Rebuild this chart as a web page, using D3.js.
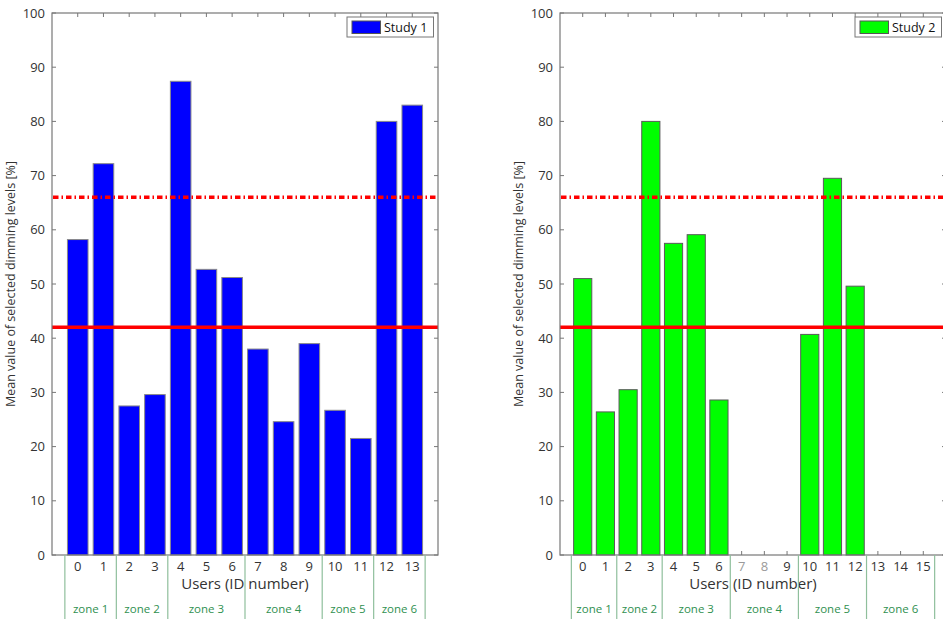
<!DOCTYPE html>
<html>
<head>
<meta charset="utf-8">
<script src="https://cdn.jsdelivr.net/npm/d3@7"></script>
<style>
  body { margin: 0; background: #fff; }
  svg { font-family: "Open Sans", sans-serif; }
</style>
</head>
<body>
<script>
// data
var study1Ids = [0, 1, 2, 3, 4, 5, 6, 7, 8, 9, 10, 11, 12, 13];
var study1Values = [58.2, 72.2, 27.5, 29.6, 87.4, 52.7, 51.2, 38.0, 24.6, 39.0, 26.7, 21.5, 80.0, 83.0];

var study2Ids = [0, 1, 2, 3, 4, 5, 6, 7, 8, 9, 10, 11, 12, 13, 14, 15];
var study2Values = [51.0, 26.4, 30.5, 80.0, 57.5, 59.1, 28.6, null, null, null, 40.7, 69.5, 49.6, null, null, null];
var study2GrayIds = [7, 8];

var yTicks = [0, 10, 20, 30, 40, 50, 60, 70, 80, 90, 100];
var meanLevel = 42;     // solid red line
var upperLevel = 66;    // dash-dot red line

var zoneNames = ["zone 1", "zone 2", "zone 3", "zone 4", "zone 5", "zone 6"];
var zoneStarts1 = [0, 2, 4, 7, 10, 12];
var zoneEnds1 = [1, 3, 6, 9, 11, 13];
var zoneStarts2 = [0, 2, 4, 7, 10, 13];
var zoneEnds2 = [1, 3, 6, 9, 12, 15];

var W = 943, H = 619;
var plotTop = 13, plotBottom = 555;

var svg = d3.select("body").append("svg")
    .attr("width", W)
    .attr("height", H);

function drawPanel(opts) {
    var g = svg.append("g");
    var ids = opts.ids, vals = opts.values;

    var x = d3.scaleLinear()
        .domain([ids[0] - 1, ids[ids.length - 1] + 1])
        .range([opts.left, opts.left + 386]);
    var y = d3.scaleLinear()
        .domain([0, 100])
        .range([plotBottom, plotTop]);
    var step = x(1) - x(0);
    var bw = step * 0.8;

    // top and bottom inward ticks
    g.selectAll(".tt").data(ids).enter().append("line")
        .attr("x1", d => x(d)).attr("x2", d => x(d))
        .attr("y1", plotTop).attr("y2", plotTop + 4)
        .attr("stroke", "#777").attr("stroke-width", 1);
    g.selectAll(".bt").data(ids).enter().append("line")
        .attr("x1", d => x(d)).attr("x2", d => x(d))
        .attr("y1", plotBottom).attr("y2", plotBottom - 4)
        .attr("stroke", "#777").attr("stroke-width", 1);
    // left and right inward ticks
    g.selectAll(".lt").data(yTicks).enter().append("line")
        .attr("x1", x.range()[0]).attr("x2", x.range()[0] + 4)
        .attr("y1", d => y(d)).attr("y2", d => y(d))
        .attr("stroke", "#777");
    g.selectAll(".rt").data(yTicks).enter().append("line")
        .attr("x1", x.range()[1]).attr("x2", x.range()[1] - 4)
        .attr("y1", d => y(d)).attr("y2", d => y(d))
        .attr("stroke", "#777");

    // bars
    var bars = ids.map((d, i) => ({ id: d, v: vals[i] })).filter(d => d.v != null);
    g.selectAll(".bar").data(bars).enter().append("rect")
        .attr("x", d => x(d.id) - bw / 2)
        .attr("width", bw)
        .attr("y", d => y(d.v))
        .attr("height", d => y(0) - y(d.v))
        .attr("fill", opts.color)
        .attr("stroke", opts.edge)
        .attr("stroke-width", 1);

    // reference lines
    g.append("line")
        .attr("x1", x.range()[0]).attr("x2", x.range()[1])
        .attr("y1", y(meanLevel)).attr("y2", y(meanLevel))
        .attr("stroke", "#ff0000").attr("stroke-width", 3.5);
    g.append("line")
        .attr("x1", x.range()[0] + 1).attr("x2", x.range()[1])
        .attr("y1", y(upperLevel)).attr("y2", y(upperLevel))
        .attr("stroke", "#ff0000").attr("stroke-width", 3.5)
        .attr("stroke-dasharray", "5.5,3,1.5,3");

    // axes box
    g.append("rect")
        .attr("x", x.range()[0]).attr("y", plotTop)
        .attr("width", x.range()[1] - x.range()[0])
        .attr("height", plotBottom - plotTop)
        .attr("fill", "none")
        .attr("stroke", "#777").attr("stroke-width", 1.2);

    // y tick labels
    g.selectAll(".yl").data(yTicks).enter().append("text")
        .attr("x", x.range()[0] - 7)
        .attr("y", d => y(d))
        .attr("dy", "0.35em")
        .attr("text-anchor", "end")
        .attr("font-size", 13)
        .attr("fill", "#333")
        .text(d => d);

    // x tick labels
    g.selectAll(".xl").data(ids).enter().append("text")
        .attr("x", d => x(d))
        .attr("y", 566)
        .attr("dy", "0.35em")
        .attr("text-anchor", "middle")
        .attr("font-size", 13)
        .attr("fill", d => opts.grayIds.indexOf(d) >= 0 ? "#9a9a9a" : "#333")
        .text(d => d);

    g.append("text")
        .attr("x", (x.range()[0] + x.range()[1]) / 2)
        .attr("y", 584)
        .attr("dy", "0.35em")
        .attr("text-anchor", "middle")
        .attr("font-size", 15)
        .attr("fill", "#333")
        .text("Users (ID number)");

    g.append("text")
        .attr("transform", "translate(" + (x.range()[0] - 37) + "," + ((plotTop + plotBottom) / 2) + ") rotate(-90)")
        .attr("text-anchor", "middle")
        .attr("font-size", 12.5)
        .attr("fill", "#333")
        .text("Mean value of selected dimming levels [%]");

    // zones under the axis
    var bounds = [opts.zoneStarts[0] - 0.5].concat(opts.zoneEnds.map(d => d + 0.5));
    g.selectAll(".zl").data(bounds).enter().append("line")
        .attr("x1", d => x(d)).attr("x2", d => x(d))
        .attr("y1", plotBottom).attr("y2", H)
        .attr("stroke", "#8fbf9c").attr("stroke-width", 1.2);
    g.selectAll(".zt").data(zoneNames).enter().append("text")
        .attr("x", (d, i) => (x(opts.zoneStarts[i] - 0.5) + x(opts.zoneEnds[i] + 0.5)) / 2)
        .attr("y", 609)
        .attr("dy", "0.35em")
        .attr("text-anchor", "middle")
        .attr("font-size", 11.5)
        .attr("fill", "#2f9050")
        .text(d => d);

    // legend
    var lx = x.range()[1] - 91, ly = 17;
    g.append("rect")
        .attr("x", lx).attr("y", ly)
        .attr("width", 86.5).attr("height", 20)
        .attr("fill", "#fff").attr("stroke", "#777");
    g.append("rect")
        .attr("x", lx + 5).attr("y", ly + 4)
        .attr("width", 28.5).attr("height", 12.5)
        .attr("fill", opts.color).attr("stroke", "#555");
    g.append("text")
        .attr("x", lx + 37).attr("y", ly + 10.5)
        .attr("dy", "0.35em")
        .attr("font-size", 12.5)
        .attr("fill", "#111")
        .text(opts.label);
}

drawPanel({
    ids: study1Ids, values: study1Values, left: 52, color: "#0000ff", edge: "#8a8a8a",
    label: "Study 1", grayIds: [], zoneStarts: zoneStarts1, zoneEnds: zoneEnds1
});
drawPanel({
    ids: study2Ids, values: study2Values, left: 560, color: "#00ff00", edge: "#5a5a5a",
    label: "Study 2", grayIds: study2GrayIds, zoneStarts: zoneStarts2, zoneEnds: zoneEnds2
});
</script>
</body>
</html>
